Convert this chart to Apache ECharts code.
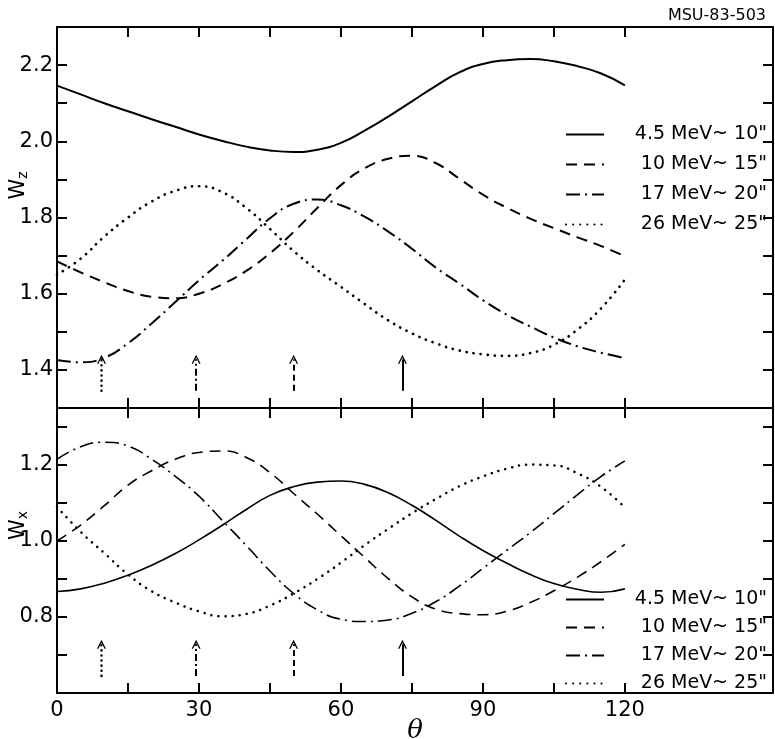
<!DOCTYPE html>
<html>
<head>
<meta charset="utf-8">
<script src="https://cdn.jsdelivr.net/npm/echarts/dist/echarts.min.js"></script>
<style>
  html, body { margin: 0; background: #fff; }
  #chart { width: 775px; height: 739px; }
</style>
</head>
<body>
<div id="chart"></div>
<script>
// angle theta (deg)
const theta = [0, 5, 10, 15, 20, 25, 30, 35, 40, 45, 50, 55, 60, 65, 70, 75, 80, 85, 90, 95, 100, 105, 110, 115, 120];

const names = ['4.5 MeV~ 10"', '10 MeV~ 15"', '17 MeV~ 20"', '26 MeV~ 25"'];

// upper panel: Wz
const wz45 = [2.146, 2.123, 2.100, 2.079, 2.058, 2.038, 2.018, 2.001, 1.986, 1.976, 1.972, 1.978, 1.996, 2.028, 2.065, 2.105, 2.145, 2.181, 2.203, 2.213, 2.216, 2.210, 2.197, 2.178, 2.147];
const wz10 = [1.685, 1.656, 1.630, 1.607, 1.592, 1.588, 1.600, 1.625, 1.660, 1.706, 1.762, 1.825, 1.885, 1.929, 1.954, 1.962, 1.943, 1.902, 1.860, 1.826, 1.797, 1.772, 1.748, 1.725, 1.698];
const wz17 = [1.426, 1.420, 1.432, 1.470, 1.522, 1.578, 1.635, 1.687, 1.743, 1.798, 1.836, 1.847, 1.832, 1.802, 1.763, 1.718, 1.669, 1.627, 1.583, 1.545, 1.514, 1.485, 1.462, 1.445, 1.431];
const wz26 = [1.650, 1.692, 1.750, 1.800, 1.842, 1.870, 1.882, 1.866, 1.825, 1.770, 1.712, 1.662, 1.618, 1.573, 1.530, 1.496, 1.470, 1.451, 1.441, 1.437, 1.444, 1.466, 1.506, 1.562, 1.637];

// lower panel: Wx
const wx45 = [0.867, 0.874, 0.889, 0.910, 0.936, 0.967, 1.003, 1.042, 1.083, 1.120, 1.143, 1.155, 1.158, 1.149, 1.127, 1.094, 1.055, 1.013, 0.975, 0.942, 0.912, 0.888, 0.873, 0.865, 0.874];
const wx10 = [1.000, 1.042, 1.093, 1.147, 1.185, 1.215, 1.233, 1.237, 1.220, 1.180, 1.125, 1.071, 1.014, 0.957, 0.901, 0.853, 0.821, 0.809, 0.806, 0.815, 0.838, 0.869, 0.905, 0.946, 0.991];
const wx17 = [1.215, 1.248, 1.260, 1.250, 1.215, 1.170, 1.118, 1.053, 0.988, 0.921, 0.862, 0.819, 0.794, 0.788, 0.792, 0.810, 0.840, 0.881, 0.928, 0.975, 1.022, 1.072, 1.122, 1.170, 1.211];
const wx26 = [1.090, 1.024, 0.968, 0.912, 0.868, 0.838, 0.815, 0.802, 0.808, 0.830, 0.862, 0.900, 0.943, 0.989, 1.032, 1.073, 1.110, 1.144, 1.170, 1.190, 1.201, 1.199, 1.178, 1.142, 1.088];

// arrows (theta) for 4.5, 10, 17, 26 MeV
const arrowTheta = [73, 50, 29.4, 9.4];
const arrowTop = [1.345, 1.428];
const arrowBottom = [0.645, 0.728];

const xTicks = [0, 15, 30, 45, 60, 75, 90, 105, 120];
const xLabels = [0, 30, 60, 90, 120];
const yTopLabels = [1.4, 1.6, 1.8, 2.0, 2.2];
const yBottomLabels = [0.8, 1.0, 1.2];

const xMax = 151.3;
const font = 'DejaVu Sans';
const styles = [
  { type: 'solid' },
  { type: [11, 7] },
  { type: [14, 5, 2, 5] },
  { type: [0.1, 7], cap: 'round' }
];

const pair = ys => theta.map((t, i) => [t, ys[i]]);

function xAxis(grid, pos, labels) {
  return {
    type: 'value', gridIndex: grid, position: pos, min: 0, max: xMax,
    axisLine: { onZero: false, lineStyle: { color: '#000', width: 2 } },
    axisTick: { inside: true, length: 10, customValues: xTicks, lineStyle: { color: '#000', width: 2 } },
    axisLabel: {
      show: labels, color: '#000', fontSize: 21, fontFamily: font, margin: 7,
      customValues: xLabels
    },
    splitLine: { show: false }
  };
}

function yAxis(grid, pos, min, max, labels) {
  return {
    type: 'value', gridIndex: grid, position: pos, min: min, max: max, interval: 0.1,
    axisLine: { onZero: false, lineStyle: { color: '#000', width: 2 } },
    axisTick: { inside: true, length: 10, lineStyle: { color: '#000', width: 2 } },
    axisLabel: labels ? {
      show: true, color: '#000', fontSize: 21, fontFamily: font, margin: 4,
      customValues: labels, formatter: v => v.toFixed(1)
    } : { show: false },
    splitLine: { show: false }
  };
}

function wName(sub, pad) {
  return {
    name: '{w|W}{s|' + sub + '}', nameLocation: 'middle', nameGap: 27, nameRotate: 90,
    nameMoveOverlap: false,
    nameTextStyle: {
      padding: [0, 0, 0, pad],
      rich: {
        w: { fontSize: 21, fontFamily: font, color: '#000' },
        s: { fontSize: 14, fontFamily: font, color: '#000', padding: [8, 0, 0, 0] }
      }
    }
  };
}

const topSeries = [wz45, wz10, wz17, wz26];
const bottomSeries = [wx45, wx10, wx17, wx26];
const series = [];

topSeries.forEach((d, i) => {
  series.push({
    name: names[i], type: 'line', xAxisIndex: 0, yAxisIndex: 0,
    data: pair(d), smooth: 0.5, symbol: 'none', color: '#000',
    lineStyle: Object.assign({ color: '#000', width: i === 3 ? 2.7 : 2 }, styles[i])
  });
});
bottomSeries.forEach((d, i) => {
  series.push({
    name: names[i], type: 'line', xAxisIndex: 2, yAxisIndex: 2,
    data: pair(d), smooth: 0.5, symbol: 'none', color: '#000',
    lineStyle: Object.assign({ color: '#000', width: i === 3 ? 2.5 : 1.6 }, styles[i])
  });
});

// little arrows under the curves
const head = 'path://M0,10 L5,0 L10,10 L8.4,10 L5,3.2 L1.6,10 Z';
const arrowStyles = [{ type: 'solid' }, { type: [6, 4] }, { type: [7, 3, 2, 3] }, { type: [0.1, 5], cap: 'round' }];
[[0, 0, arrowTop], [2, 2, arrowBottom]].forEach(([xi, yi, ys]) => {
  arrowTheta.forEach((t, i) => {
    series.push({
      type: 'lines', coordinateSystem: 'cartesian2d', xAxisIndex: xi, yAxisIndex: yi,
      symbol: ['none', head], symbolSize: [0, 9], silent: true,
      lineStyle: Object.assign({ color: '#000', width: i === 3 ? 2.5 : 2, opacity: 1, curveness: 0 }, arrowStyles[i]),
      data: [{ coords: [[t, ys[0]], [t, ys[1]]] }]
    });
  });
});

function legend(top, gap) {
  return {
    data: names, orient: 'vertical', right: 3, top: top, itemGap: gap,
    itemWidth: 38, itemHeight: 20, selectedMode: false,
    itemStyle: { opacity: 0 },
    formatter: '{t|{name}}',
    textStyle: {
      color: '#000', fontFamily: font,
      rich: { t: { width: 158, align: 'right', fontSize: 19, fontFamily: font, color: '#000' } }
    }
  };
}

const chart = echarts.init(document.getElementById('chart'));
chart.setOption({
  backgroundColor: '#fff',
  animation: false,
  title: {
    text: 'MSU-83-503', right: 4, top: 3,
    textStyle: { fontSize: 16, fontWeight: 'normal', fontFamily: font, color: '#000' }
  },
  legend: [legend(120, 11), legend(585, 9)],
  grid: [
    { left: 57, right: 2, top: 27, height: 381, outerBoundsMode: 'none' },
    { left: 57, right: 2, top: 408, height: 285, outerBoundsMode: 'none' }
  ],
  xAxis: [
    xAxis(0, 'bottom', false),
    xAxis(0, 'top', false),
    Object.assign(xAxis(1, 'bottom', true), {
      name: 'θ', nameLocation: 'middle', nameGap: 25, nameMoveOverlap: false,
      nameTextStyle: { fontSize: 26, fontStyle: 'italic', fontFamily: 'DejaVu Serif', color: '#000' }
    }),
    xAxis(1, 'top', false)
  ],
  yAxis: [
    Object.assign(yAxis(0, 'left', 1.3, 2.3, yTopLabels), wName('z', 64)),
    yAxis(0, 'right', 1.3, 2.3, null),
    Object.assign(yAxis(1, 'left', 0.6, 1.35, yBottomLabels), wName('x', 50)),
    yAxis(1, 'right', 0.6, 1.35, null)
  ],
  series: series
});
</script>
</body>
</html>
